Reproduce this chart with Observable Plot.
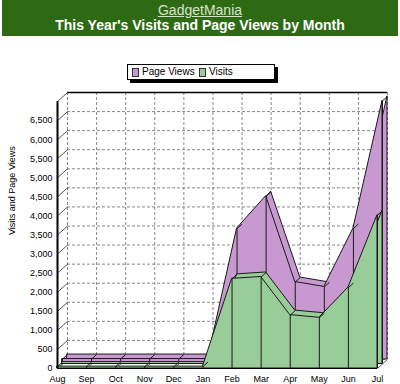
<!DOCTYPE html>
<html>
<head>
<meta charset="utf-8">
<script src="https://cdn.jsdelivr.net/npm/d3@7"></script>
<script src="https://cdn.jsdelivr.net/npm/@observablehq/plot@0.6"></script>
<style>
  body { margin: 0; background: #ffffff; font-family: "Liberation Sans", Arial, sans-serif; }
  #wrap { position: relative; width: 400px; height: 384px; overflow: hidden; background: #ffffff; }
  #title { position: absolute; left: 2px; top: 0; width: 396px; height: 36px; background: #2e6a14; text-align: center; color: #fff; }
  #t1 { position: absolute; left: 0; right: 0; top: 2px; font-size: 14px; color: #d8e2cc; text-decoration: underline; text-underline-offset: 1px; }
  #t2 { position: absolute; left: 0; right: 0; top: 17px; font-size: 14px; font-weight: bold; color: #ffffff; }
  #chart { position: absolute; left: 0; top: 36px; }
  #legend { position: absolute; left: 127px; top: 64px; width: 146px; height: 14px; border: 1px solid #000; background: #fff; box-shadow: 3px 3px 0 #000; font-size: 10px; color: #000; }
  .sw { position: absolute; top: 3px; width: 5px; height: 7px; border: 1px solid #333; }
  .lt { position: absolute; top: 1px; white-space: nowrap; }
</style>
</head>
<body>
<div id="wrap">
  <div id="title"><div id="t1">GadgetMania</div><div id="t2">This Year's Visits and Page Views by Month</div></div>
  <div id="chart"></div>
  <div id="legend"></div>
</div>
<script>
// ---- data ----
const months = ["Aug", "Sep", "Oct", "Nov", "Dec", "Jan", "Feb", "Mar", "Apr", "May", "Jun", "Jul"];
const pageViews = [130, 130, 130, 130, 130, 130, 3550, 4400, 2150, 2020, 3550, 6900];
const visits = [50, 50, 50, 50, 50, 50, 2350, 2400, 1400, 1330, 2120, 4020];
const yTicks = [0, 500, 1000, 1500, 2000, 2500, 3000, 3500, 4000, 4500, 5000, 5500, 6000, 6500];
const seriesNames = ["Page Views", "Visits"];
const seriesColors = ["#c898d0", "#98cc98"];
const yMax = 7000;

// ---- layout / style ----
const W = 400, H = 348, mL = 57, mR = 23, mT = 65, mB = 16;
const DEPTH_X = 10, DEPTH_Y = 9; // 3D depth offset in px
const pxPerX = (W - mL - mR) / (months.length - 1);
const pxPerY = (H - mT - mB) / yMax;
const dxu = DEPTH_X / pxPerX, dyu = DEPTH_Y / pxPerY; // depth in data units
const edge = "#1a1a1a";

const data = months.map((m, i) => ({i, m, pv: pageViews[i], v: visits[i]}));

const floorLinks = data.map(d => ({x1: d.i, y1: 0, x2: d.i + dxu, y2: dyu}));
const wallLinks = yTicks.concat([yMax]).map(t => ({x1: 0, y1: t, x2: dxu, y2: t + dyu}));
const pvTop = data.map(d => ({x1: d.i + dxu / 2, y1: d.pv + dyu / 2, x2: d.i + dxu, y2: d.pv + dyu}));
const vTop = data.map(d => ({x1: d.i, y1: d.v, x2: d.i + dxu / 2, y2: d.v + dyu / 2}));

const grid = {stroke: "#888", strokeDasharray: "3,2", strokeWidth: 1, dx: DEPTH_X, dy: -DEPTH_Y};

const plot = Plot.plot({
  width: W, height: H,
  marginLeft: mL, marginRight: mR, marginTop: mT, marginBottom: mB,
  style: {fontSize: "9px", fontFamily: "Liberation Sans, Arial, sans-serif", background: "transparent", color: "#000"},
  x: {type: "linear", domain: [0, months.length - 1], ticks: data.map(d => d.i), tickFormat: i => months[i], tickSize: 0, tickPadding: 7, label: null},
  y: {domain: [0, yMax], ticks: yTicks, tickFormat: d3.format(","), tickSize: 0, tickPadding: 5, label: null},
  marks: [
    // back wall grid
    Plot.ruleY(yTicks, grid),
    Plot.ruleX(data.map(d => d.i), {x: d => d, ...grid}),
    Plot.ruleY([yMax], {stroke: "#000", strokeWidth: 1.5, dx: DEPTH_X, dy: -DEPTH_Y}),
    // floor and wall depth lines
    Plot.link(floorLinks, {x1: "x1", y1: "y1", x2: "x2", y2: "y2", stroke: "#555", strokeWidth: 1}),
    Plot.link(wallLinks, {x1: "x1", y1: "y1", x2: "x2", y2: "y2", stroke: "#555", strokeWidth: 1}),
    // Page Views slice (back)
    Plot.areaY(data, {x: "i", y: "pv", fill: seriesColors[0], stroke: edge, strokeWidth: 1, dx: DEPTH_X, dy: -DEPTH_Y}),
    Plot.areaY(data, {x: "i", y: "pv", fill: seriesColors[0], stroke: edge, strokeWidth: 1, dx: DEPTH_X / 2, dy: -DEPTH_Y / 2}),
    Plot.ruleX(data, {x: "i", y1: 0, y2: "pv", stroke: edge, strokeWidth: 1, dx: DEPTH_X / 2, dy: -DEPTH_Y / 2}),
    Plot.link(pvTop, {x1: "x1", y1: "y1", x2: "x2", y2: "y2", stroke: edge, strokeWidth: 1}),
    // Visits slice (front)
    Plot.areaY(data, {x: "i", y: "v", fill: seriesColors[1], stroke: edge, strokeWidth: 1, dx: DEPTH_X / 2, dy: -DEPTH_Y / 2}),
    Plot.areaY(data, {x: "i", y: "v", fill: seriesColors[1], stroke: edge, strokeWidth: 1}),
    Plot.ruleX(data, {x: "i", y1: 0, y2: "v", stroke: edge, strokeWidth: 1}),
    Plot.link(vTop, {x1: "x1", y1: "y1", x2: "x2", y2: "y2", stroke: edge, strokeWidth: 1}),
    // front axes
    Plot.ruleX([0], {stroke: "#000", strokeWidth: 2}),
    Plot.ruleY([0], {stroke: "#000", strokeWidth: 1}),
    // y axis title
    Plot.text(["Visits and Page Views"], {frameAnchor: "left", rotate: -90, dx: -45, dy: 0, fontSize: 9, fill: "#000"})
  ]
});
document.getElementById("chart").appendChild(plot);

// legend
const lg = document.getElementById("legend");
const pos = [{sw: 4, tx: 14}, {sw: 71, tx: 81}];
seriesNames.forEach((n, k) => {
  const s = document.createElement("div");
  s.className = "sw"; s.style.left = pos[k].sw + "px"; s.style.background = seriesColors[k];
  lg.appendChild(s);
  const t = document.createElement("div");
  t.className = "lt"; t.style.left = pos[k].tx + "px"; t.textContent = n;
  lg.appendChild(t);
});
</script>
</body>
</html>
